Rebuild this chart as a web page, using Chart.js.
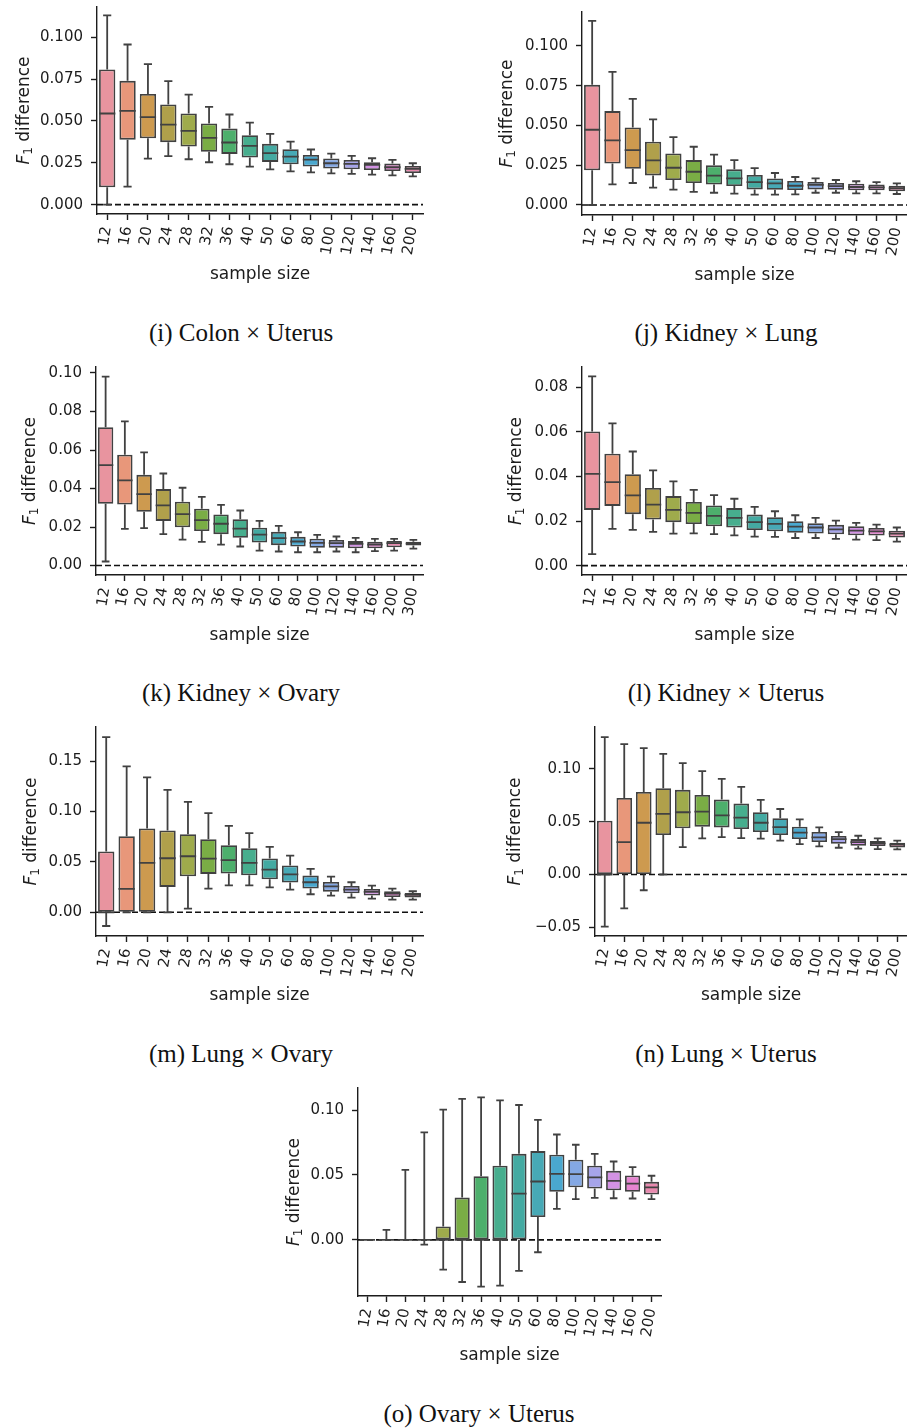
<!DOCTYPE html>
<html>
<head>
<meta charset="utf-8">
<script src="https://cdn.jsdelivr.net/npm/chart.js@4.4.0/dist/chart.umd.min.js"></script>
<style>
body { margin: 0; background: #fff; width: 907px; height: 1428px; position: relative; overflow: hidden; }
canvas { position: absolute; }
.cap { position: absolute; font-family: "Liberation Serif", serif; font-size: 25px; color: #111;
       transform: translate(-50%, -50%); white-space: nowrap; line-height: 1; }
</style>
</head>
<body>
<canvas id="p_i" width="440" height="300" style="left:0;top:0"></canvas>
<canvas id="p_j" width="437" height="300" style="left:470px;top:0"></canvas>
<canvas id="p_k" width="440" height="300" style="left:0;top:360px"></canvas>
<canvas id="p_l" width="437" height="300" style="left:470px;top:360px"></canvas>
<canvas id="p_m" width="440" height="300" style="left:0;top:720px"></canvas>
<canvas id="p_n" width="437" height="300" style="left:470px;top:720px"></canvas>
<canvas id="p_o" width="430" height="300" style="left:250px;top:1080px"></canvas>

<div class="cap" style="left:241px;top:332px">(i) Colon × Uterus</div>
<div class="cap" style="left:726px;top:332px">(j) Kidney × Lung</div>
<div class="cap" style="left:241px;top:692px">(k) Kidney × Ovary</div>
<div class="cap" style="left:726px;top:692px">(l) Kidney × Uterus</div>
<div class="cap" style="left:241px;top:1053px">(m) Lung × Ovary</div>
<div class="cap" style="left:726px;top:1053px">(n) Lung × Uterus</div>
<div class="cap" style="left:479px;top:1413px">(o) Ovary × Uterus</div>

<script>
// sample sizes on the x axis
var sizes = ["12","16","20","24","28","32","36","40","50","60","80","100","120","140","160","200"];
var sizesK = ["12","16","20","24","28","32","36","40","50","60","80","100","120","140","160","200","300"];

// y tick values
var ticks025 = [0, 0.025, 0.05, 0.075, 0.1];
var ticks02 = [0, 0.02, 0.04, 0.06, 0.08, 0.1];
var ticks02b = [0, 0.02, 0.04, 0.06, 0.08];
var ticks05 = [0, 0.05, 0.1, 0.15];
var ticks05n = [-0.05, 0, 0.05, 0.1];
var ticks05o = [0, 0.05, 0.1];

// (i) Colon x Uterus
var colonUterusLow = [0.000,0.0108,0.0275,0.0289,0.0271,0.0253,0.0241,0.0227,0.0211,0.0199,0.0193,0.0187,0.0183,0.0179,0.0175,0.0169];
var colonUterusQ1 = [0.0104,0.0388,0.0396,0.0373,0.0347,0.0315,0.0303,0.0281,0.0255,0.0241,0.0227,0.0215,0.0211,0.0207,0.0201,0.0189];
var colonUterusMed = [0.0544,0.056,0.0522,0.0478,0.044,0.0398,0.0371,0.0351,0.0307,0.0287,0.0269,0.0247,0.0243,0.0237,0.0223,0.0213];
var colonUterusQ3 = [0.0807,0.0739,0.0661,0.0598,0.0544,0.0484,0.0454,0.0414,0.0363,0.0331,0.0297,0.0275,0.0267,0.0253,0.0245,0.0231];
var colonUterusHigh = [0.113,0.0956,0.0839,0.0737,0.0657,0.0584,0.0538,0.049,0.0422,0.0376,0.0329,0.0305,0.0291,0.0277,0.0267,0.0247];

// (j) Kidney x Lung
var kidneyLungLow = [0,0.013,0.0138,0.0109,0.0096,0.0082,0.0077,0.0071,0.0065,0.0065,0.0067,0.0077,0.0077,0.0073,0.0073,0.0069];
var kidneyLungQ1 = [0.0218,0.026,0.0228,0.0186,0.0157,0.0138,0.0128,0.0119,0.0098,0.0096,0.0094,0.0098,0.0096,0.0092,0.0092,0.0086];
var kidneyLungMed = [0.0473,0.0406,0.0345,0.028,0.0234,0.0209,0.0184,0.0167,0.0144,0.0136,0.0121,0.0126,0.0119,0.0113,0.0111,0.0105];
var kidneyLungQ3 = [0.0755,0.059,0.0487,0.0397,0.0324,0.0282,0.0249,0.0224,0.0188,0.0167,0.0151,0.0144,0.0138,0.0134,0.0128,0.0121];
var kidneyLungHigh = [0.1157,0.0837,0.0667,0.0538,0.0427,0.0366,0.0316,0.0282,0.0232,0.0201,0.0176,0.0167,0.0157,0.0149,0.0144,0.0136];

// (k) Kidney x Ovary
var kidneyOvaryLow = [0.0021,0.019,0.0194,0.0163,0.0135,0.0123,0.0109,0.0099,0.0078,0.0073,0.0069,0.0069,0.0073,0.0069,0.0075,0.0078,0.0088];
var kidneyOvaryQ1 = [0.0321,0.0317,0.0279,0.0232,0.0199,0.0179,0.0163,0.0144,0.012,0.0106,0.0099,0.0092,0.0092,0.009,0.009,0.0095,0.0104];
var kidneyOvaryMed = [0.0522,0.0442,0.0371,0.0312,0.0267,0.0236,0.0217,0.0192,0.0161,0.0142,0.0125,0.0118,0.0116,0.0113,0.0109,0.0116,0.0114];
var kidneyOvaryQ3 = [0.0718,0.0575,0.0471,0.0397,0.0331,0.0295,0.0265,0.0241,0.0196,0.0175,0.0149,0.0139,0.0133,0.0127,0.0123,0.0128,0.0123];
var kidneyOvaryHigh = [0.0981,0.0749,0.0588,0.0478,0.0404,0.0357,0.0315,0.0286,0.0232,0.0206,0.0173,0.0159,0.0151,0.0144,0.0139,0.0139,0.0133];

// (l) Kidney x Uterus
var kidneyUterusLow = [0.0052,0.0165,0.016,0.0151,0.0144,0.0145,0.0141,0.0136,0.013,0.0129,0.0124,0.0124,0.012,0.0117,0.0114,0.0108];
var kidneyUterusQ1 = [0.025,0.0268,0.0231,0.0207,0.0195,0.0187,0.0177,0.0171,0.016,0.0154,0.0147,0.0144,0.0141,0.0136,0.0135,0.0126];
var kidneyUterusMed = [0.0412,0.0375,0.0315,0.0274,0.025,0.0237,0.0223,0.0214,0.0195,0.0187,0.0175,0.0171,0.0163,0.0157,0.0154,0.0144];
var kidneyUterusQ3 = [0.0602,0.0502,0.041,0.0348,0.0312,0.0286,0.027,0.0258,0.0229,0.0217,0.0199,0.019,0.0183,0.0177,0.0169,0.0157];
var kidneyUterusHigh = [0.0849,0.0638,0.0512,0.0427,0.0378,0.034,0.0316,0.03,0.0264,0.0244,0.0226,0.0214,0.0202,0.0192,0.0184,0.0171];

// (m) Lung x Ovary
var lungOvaryLow = [-0.0136,0,0,0,0.0036,0.0235,0.0268,0.0268,0.0248,0.0225,0.0179,0.0166,0.0146,0.0136,0.0126,0.0126];
var lungOvaryQ1 = [0,0,0,0.0252,0.0358,0.0381,0.0384,0.0368,0.0328,0.0295,0.0235,0.0205,0.0189,0.0166,0.0152,0.0146];
var lungOvaryMed = [0,0.0232,0.049,0.0536,0.0556,0.0533,0.0517,0.049,0.0424,0.0377,0.0298,0.0258,0.0225,0.0202,0.0185,0.0172];
var lungOvaryQ3 = [0.0603,0.0755,0.0831,0.0811,0.0775,0.0725,0.0666,0.0636,0.0533,0.0464,0.0364,0.0301,0.0262,0.0232,0.0209,0.0192];
var lungOvaryHigh = [0.1738,0.1447,0.1338,0.1215,0.1096,0.0983,0.0858,0.0785,0.0649,0.0563,0.043,0.0354,0.0298,0.0265,0.0235,0.0209];

// (n) Lung x Uterus
var lungUterusLow = [-0.0494,-0.032,-0.0149,0,0.0259,0.0342,0.0354,0.0345,0.0339,0.032,0.0288,0.0266,0.0253,0.0244,0.0241,0.0237];
var lungUterusQ1 = [0,0,0,0.0373,0.0437,0.0453,0.0446,0.043,0.0402,0.0373,0.0335,0.0307,0.0291,0.0272,0.0269,0.0256];
var lungUterusMed = [0,0.0307,0.049,0.0573,0.0589,0.0595,0.056,0.0538,0.049,0.0449,0.0396,0.0351,0.0335,0.0307,0.0294,0.0282];
var lungUterusQ3 = [0.0509,0.0725,0.0782,0.0816,0.0801,0.0753,0.0709,0.0671,0.0589,0.0532,0.0453,0.0402,0.0364,0.0335,0.0316,0.0301];
var lungUterusHigh = [0.130,0.1234,0.1196,0.1142,0.1054,0.0978,0.0905,0.0829,0.0706,0.062,0.0522,0.0446,0.0402,0.0367,0.0342,0.032];

// (o) Ovary x Uterus
var ovaryUterusLow = [0,0,0,-0.0036,-0.0229,-0.0324,-0.036,-0.0352,-0.0239,-0.0095,0.0239,0.0314,0.0324,0.0321,0.0319,0.0314];
var ovaryUterusQ1 = [0,0,0,0,0,0,0,0,0,0.0177,0.037,0.0406,0.0396,0.0383,0.037,0.035];
var ovaryUterusMed = [0,0,0,0,0,0,0,0,0.0357,0.045,0.0509,0.0506,0.0481,0.0455,0.0434,0.0404];
var ovaryUterusQ3 = [0,0,0,0,0.0103,0.0326,0.0491,0.0571,0.0663,0.0684,0.0656,0.0617,0.0571,0.0532,0.0496,0.0447];
var ovaryUterusHigh = [0,0.0077,0.054,0.0828,0.1003,0.1087,0.1098,0.1075,0.1039,0.0925,0.0812,0.0733,0.0663,0.0604,0.056,0.0494];

var palette = ['#e8949f','#e8977a','#cd9a4f','#b0a04b','#9fab4c','#7aad45','#4daf6c','#47ae8e',
               '#44aaa2','#47a9b6','#4aa8cf','#84a8e4','#a6a4ea','#d392e4','#e584d0','#e889ae','#e88b9a'];
var ink = '#1c1c1c';
var edge = '#414141';
var tickFont = { family: 'DejaVu Sans', size: 15 };

var boxParts = {
    id: 'boxParts',
    beforeDatasetsDraw: function (chart) {
        var ctx = chart.ctx, a = chart.chartArea;
        var y0 = chart.scales.y.getPixelForValue(0);
        ctx.save();
        ctx.strokeStyle = '#111';
        ctx.lineWidth = 1.6;
        ctx.setLineDash([6, 3]);
        ctx.beginPath();
        ctx.moveTo(a.left, y0);
        ctx.lineTo(a.right, y0);
        ctx.stroke();
        ctx.restore();
    },
    afterDatasetsDraw: function (chart) {
        var ctx = chart.ctx, ys = chart.scales.y;
        var ds = chart.data.datasets[0];
        var bars = chart.getDatasetMeta(0).data;
        ctx.save();
        ctx.strokeStyle = edge;
        ctx.lineWidth = 1.8;
        bars.forEach(function (bar, i) {
            var cx = bar.x, hw = bar.width / 2, cw = bar.width / 4;
            var lo = ys.getPixelForValue(ds.low[i]);
            var hi = ys.getPixelForValue(ds.high[i]);
            var q1 = ys.getPixelForValue(ds.data[i][0]);
            var q3 = ys.getPixelForValue(ds.data[i][1]);
            var md = ys.getPixelForValue(ds.med[i]);
            ctx.beginPath();
            ctx.moveTo(cx, q3); ctx.lineTo(cx, hi);
            ctx.moveTo(cx, q1); ctx.lineTo(cx, lo);
            ctx.moveTo(cx - cw, hi); ctx.lineTo(cx + cw, hi);
            ctx.moveTo(cx - cw, lo); ctx.lineTo(cx + cw, lo);
            ctx.moveTo(cx - hw, md); ctx.lineTo(cx + hw, md);
            ctx.stroke();
        });
        ctx.restore();
    }
};

var axisTitles = {
    id: 'axisTitles',
    afterDraw: function (chart, args, opts) {
        var ctx = chart.ctx, a = chart.chartArea;
        ctx.save();
        ctx.fillStyle = ink;
        ctx.textBaseline = 'middle';
        ctx.textAlign = 'center';
        ctx.font = '17px "DejaVu Sans"';
        ctx.fillText('sample size', (a.left + a.right) / 2, a.bottom + opts.xGap);

        ctx.translate(a.left - opts.yGap, (a.top + a.bottom) / 2);
        ctx.rotate(-Math.PI / 2);
        ctx.textAlign = 'left';
        ctx.font = 'italic 17px "DejaVu Sans"';
        var wF = ctx.measureText('F').width;
        ctx.font = '12px "DejaVu Sans"';
        var w1 = ctx.measureText('1').width;
        ctx.font = '17px "DejaVu Sans"';
        var wR = ctx.measureText(' difference').width;
        var x = -(wF + w1 + wR) / 2;
        ctx.font = 'italic 17px "DejaVu Sans"';
        ctx.fillText('F', x, 0); x += wF;
        ctx.font = '12px "DejaVu Sans"';
        ctx.fillText('1', x, 4); x += w1;
        ctx.font = '17px "DejaVu Sans"';
        ctx.fillText(' difference', x, 0);
        ctx.restore();
    }
};

function fmt(v, dec) {
    var s = Math.abs(v).toFixed(dec);
    return v < 0 ? '\u2212' + s : s;
}

function drawPanel(p) {
    var canvas = document.getElementById(p.id);
    var cl = parseFloat(canvas.style.left) || 0;
    var ct = parseFloat(canvas.style.top) || 0;
    var cw = canvas.width, ch = canvas.height;

    new Chart(canvas, {
        type: 'bar',
        data: {
            labels: p.cats,
            datasets: [{
                data: p.q1.map(function (v, i) { return [v, p.q3[i]]; }),
                low: p.low,
                med: p.med,
                high: p.high,
                backgroundColor: palette.slice(0, p.cats.length),
                borderColor: edge,
                borderWidth: 1.8,
                borderSkipped: false,
                barPercentage: 0.8,
                categoryPercentage: 1.0
            }]
        },
        options: {
            responsive: false,
            animation: false,
            layout: {
                autoPadding: false,
                padding: { left: 0, top: p.area[1] - ct, right: cw - (p.area[2] - cl), bottom: 0 }
            },
            plugins: {
                legend: { display: false },
                tooltip: { enabled: false },
                axisTitles: { xGap: p.xGap, yGap: p.yGap }
            },
            scales: {
                x: {
                    type: 'category',
                    offset: true,
                    grid: { display: true, drawOnChartArea: false, offset: false, tickLength: 6, tickColor: ink, tickWidth: 1.4 },
                    border: { display: true, color: ink, width: 1.4 },
                    ticks: { font: tickFont, color: ink, minRotation: 80, maxRotation: 80, autoSkip: false, padding: 5 },
                    afterFit: function (s) { s.height = ct + ch - p.area[3]; s.paddingLeft = 0; s.paddingRight = 0; }
                },
                y: {
                    type: 'linear',
                    min: p.yMin,
                    max: p.yMax,
                    afterBuildTicks: function (s) { s.ticks = p.ticks.map(function (v) { return { value: v }; }); },
                    grid: { display: true, drawOnChartArea: false, tickLength: 6, tickColor: ink, tickWidth: 1.4 },
                    border: { display: true, color: ink, width: 1.4 },
                    ticks: { font: tickFont, color: ink, padding: 8, callback: function (v) { return fmt(v, p.dec); } },
                    afterFit: function (s) { s.width = p.area[0] - cl; s.paddingTop = 0; s.paddingBottom = 0; }
                }
            }
        },
        plugins: [boxParts, axisTitles]
    });
}

var panels = [
    { id: 'p_i', cats: sizes, low: colonUterusLow, q1: colonUterusQ1, med: colonUterusMed, q3: colonUterusQ3, high: colonUterusHigh,
      yMin: -0.0056, yMax: 0.118, ticks: ticks025, dec: 3, area: [97, 7, 423, 214], xGap: 61, yGap: 72 },
    { id: 'p_j', cats: sizes, low: kidneyLungLow, q1: kidneyLungQ1, med: kidneyLungMed, q3: kidneyLungQ3, high: kidneyLungHigh,
      yMin: -0.0063, yMax: 0.1213, ticks: ticks025, dec: 3, area: [582, 12, 907, 215], xGap: 61, yGap: 74 },
    { id: 'p_k', cats: sizesK, low: kidneyOvaryLow, q1: kidneyOvaryQ1, med: kidneyOvaryMed, q3: kidneyOvaryQ3, high: kidneyOvaryHigh,
      yMin: -0.0049, yMax: 0.1031, ticks: ticks02, dec: 2, area: [96, 367, 423, 575], xGap: 61, yGap: 65 },
    { id: 'p_l', cats: sizes, low: kidneyUterusLow, q1: kidneyUterusQ1, med: kidneyUterusMed, q3: kidneyUterusQ3, high: kidneyUterusHigh,
      yMin: -0.0042, yMax: 0.0891, ticks: ticks02b, dec: 2, area: [582, 367, 907, 575], xGap: 61, yGap: 65 },
    { id: 'p_m', cats: sizes, low: lungOvaryLow, q1: lungOvaryQ1, med: lungOvaryMed, q3: lungOvaryQ3, high: lungOvaryHigh,
      yMin: -0.0235, yMax: 0.1838, ticks: ticks05, dec: 2, area: [96, 727, 423, 936], xGap: 60, yGap: 64 },
    { id: 'p_n', cats: sizes, low: lungUterusLow, q1: lungUterusQ1, med: lungUterusMed, q3: lungUterusQ3, high: lungUterusHigh,
      yMin: -0.0582, yMax: 0.1396, ticks: ticks05n, dec: 2, area: [595, 727, 907, 936], xGap: 60, yGap: 79 },
    { id: 'p_o', cats: sizes, low: ovaryUterusLow, q1: ovaryUterusQ1, med: ovaryUterusMed, q3: ovaryUterusQ3, high: ovaryUterusHigh,
      yMin: -0.0432, yMax: 0.117, ticks: ticks05o, dec: 2, area: [358, 1088, 661, 1296], xGap: 60, yGap: 63 }
];

panels.forEach(drawPanel);
</script>
</body>
</html>
